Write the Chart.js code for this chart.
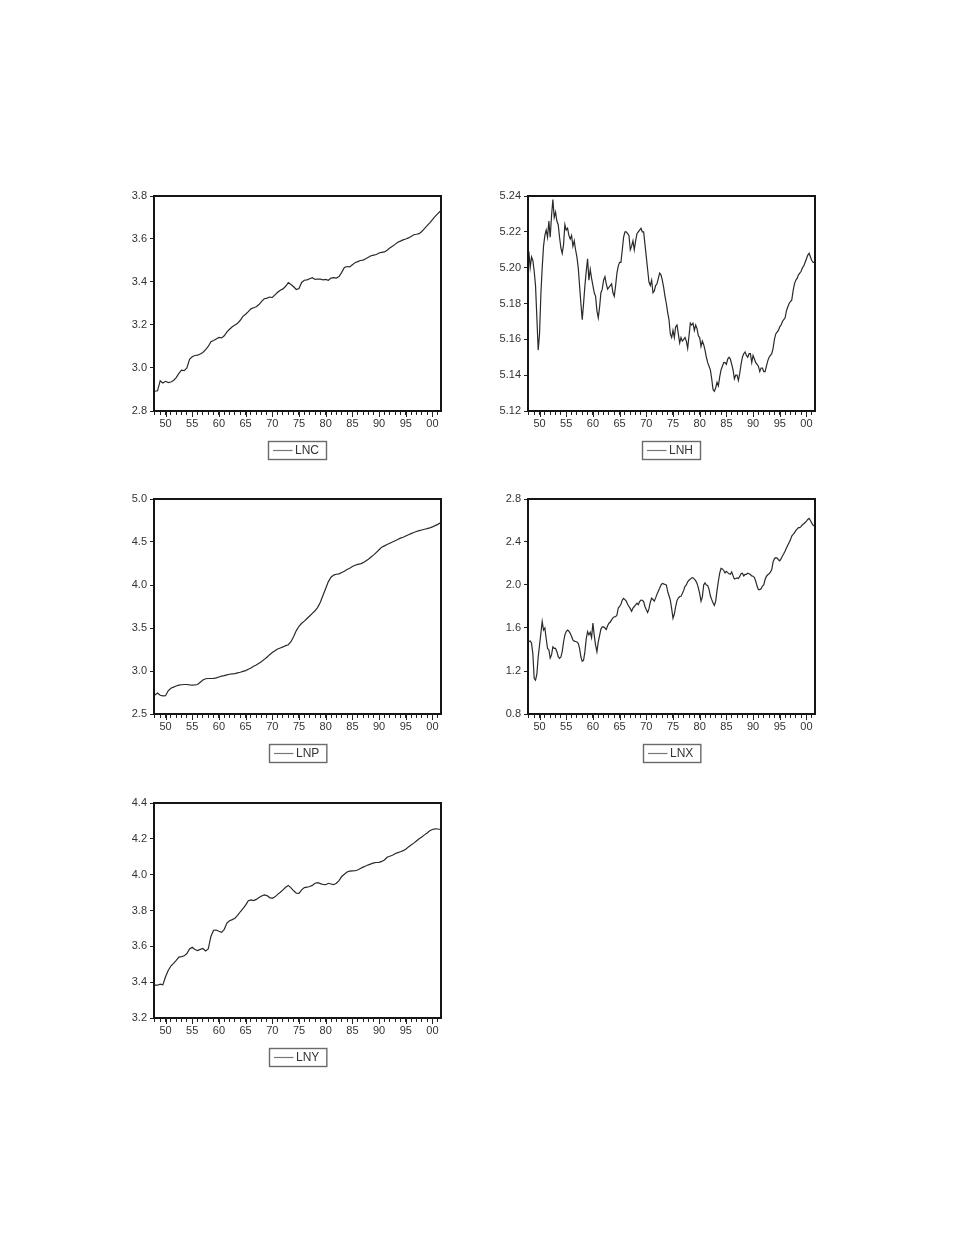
<!DOCTYPE html>
<html>
<head>
<meta charset="utf-8">
<title>LNC, LNH, LNP, LNX, LNY</title>
<script src="https://cdn.jsdelivr.net/npm/chart.js@4.4.1/dist/chart.umd.min.js"></script>
<style>
  html, body { margin: 0; padding: 0; background: #ffffff; }
  body { width: 958px; height: 1247px; position: relative; overflow: hidden; }
  canvas { position: absolute; }
</style>
</head>
<body>
<canvas id="cLNC"></canvas>
<canvas id="cLNH"></canvas>
<canvas id="cLNP"></canvas>
<canvas id="cLNX"></canvas>
<canvas id="cLNY"></canvas>
<script>
// Observation dates (decimal years): half-yearly and quarterly, 1948 to 2001.
const halfYears = Array.from({ length: 108 }, (_, i) => 1948 + i * 0.5);
const quarters = Array.from({ length: 215 }, (_, i) => 1948 + i * 0.25);

// Year axis: a tick every year, labels every five years.
const tickYears = Array.from({ length: 54 }, (_, i) => 1948 + i);
const labelYears = [1950, 1955, 1960, 1965, 1970, 1975, 1980, 1985, 1990, 1995, 2000];
const yearLabels = ['50', '55', '60', '65', '70', '75', '80', '85', '90', '95', '00'];

// Value-axis ticks for each series.
const lncTicks = [2.8, 3.0, 3.2, 3.4, 3.6, 3.8];
const lnhTicks = [5.12, 5.14, 5.16, 5.18, 5.20, 5.22, 5.24];
const lnpTicks = [2.5, 3.0, 3.5, 4.0, 4.5, 5.0];
const lnxTicks = [0.8, 1.2, 1.6, 2.0, 2.4, 2.8];
const lnyTicks = [3.2, 3.4, 3.6, 3.8, 4.0, 4.2, 4.4];

// LNC, half-yearly
const lnc = [
  2.892, 2.894, 2.940, 2.930, 2.938, 2.932, 2.935, 2.942,
  2.955, 2.975, 2.990, 2.988, 3.000, 3.040, 3.052, 3.058,
  3.060, 3.065, 3.072, 3.085, 3.100, 3.122, 3.128, 3.135,
  3.142, 3.140, 3.150, 3.168, 3.180, 3.192, 3.200, 3.208,
  3.222, 3.240, 3.250, 3.262, 3.275, 3.280, 3.285, 3.295,
  3.310, 3.322, 3.325, 3.330, 3.328, 3.340, 3.352, 3.362,
  3.368, 3.380, 3.397, 3.388, 3.378, 3.365, 3.370, 3.398,
  3.408, 3.410, 3.415, 3.420, 3.412, 3.414, 3.413, 3.410,
  3.412, 3.408, 3.418, 3.420, 3.418, 3.425, 3.445, 3.468,
  3.472, 3.470, 3.480, 3.490, 3.495, 3.500, 3.502, 3.508,
  3.515, 3.522, 3.525, 3.528, 3.535, 3.538, 3.540, 3.548,
  3.558, 3.566, 3.575, 3.585, 3.590, 3.596, 3.600, 3.605,
  3.612, 3.620, 3.622, 3.625, 3.635, 3.648, 3.662, 3.675,
  3.690, 3.705, 3.718, 3.730
];

// LNH, quarterly
const lnh = [
  5.209, 5.200, 5.206, 5.204, 5.198, 5.190, 5.172, 5.154,
  5.163, 5.185, 5.200, 5.212, 5.218, 5.221, 5.217, 5.226,
  5.217, 5.229, 5.238, 5.228, 5.231, 5.226, 5.224, 5.217,
  5.211, 5.208, 5.213, 5.224, 5.221, 5.222, 5.218, 5.216,
  5.218, 5.212, 5.215, 5.210, 5.206, 5.200, 5.190, 5.180,
  5.171, 5.180, 5.190, 5.198, 5.205, 5.193, 5.199, 5.194,
  5.190, 5.186, 5.184, 5.176, 5.172, 5.178, 5.186, 5.188,
  5.193, 5.195, 5.191, 5.188, 5.189, 5.190, 5.191, 5.186,
  5.184, 5.190, 5.197, 5.201, 5.203, 5.203, 5.210, 5.217,
  5.220, 5.220, 5.219, 5.218, 5.210, 5.212, 5.215, 5.210,
  5.215, 5.219, 5.220, 5.221, 5.222, 5.220, 5.220, 5.213,
  5.206, 5.199, 5.192, 5.190, 5.193, 5.186, 5.187, 5.190,
  5.191, 5.194, 5.197, 5.196, 5.193, 5.189, 5.184, 5.180,
  5.175, 5.171, 5.163, 5.161, 5.165, 5.161, 5.167, 5.168,
  5.163, 5.158, 5.161, 5.159, 5.160, 5.161, 5.159, 5.155,
  5.162, 5.169, 5.168, 5.169, 5.165, 5.168, 5.166, 5.162,
  5.161, 5.156, 5.159, 5.157, 5.154, 5.150, 5.147, 5.145,
  5.143, 5.138, 5.132, 5.131, 5.133, 5.136, 5.134, 5.139,
  5.143, 5.145, 5.147, 5.147, 5.146, 5.149, 5.150, 5.149,
  5.146, 5.143, 5.138, 5.140, 5.140, 5.137, 5.141, 5.146,
  5.150, 5.152, 5.153, 5.151, 5.150, 5.152, 5.152, 5.147,
  5.151, 5.149, 5.147, 5.146, 5.145, 5.142, 5.144, 5.144,
  5.142, 5.142, 5.145, 5.148, 5.150, 5.151, 5.152, 5.155,
  5.160, 5.163, 5.164, 5.165, 5.167, 5.168, 5.170, 5.171,
  5.172, 5.176, 5.178, 5.180, 5.181, 5.182, 5.187, 5.191,
  5.193, 5.194, 5.196, 5.197, 5.198, 5.200, 5.201, 5.203,
  5.205, 5.207, 5.208, 5.206, 5.204, 5.203, 5.203
];

// LNP, half-yearly
const lnp = [
  2.720, 2.745, 2.718, 2.710, 2.712, 2.770, 2.800, 2.812,
  2.825, 2.835, 2.840, 2.843, 2.843, 2.838, 2.835, 2.838,
  2.843, 2.870, 2.895, 2.910, 2.913, 2.913, 2.915, 2.920,
  2.930, 2.940, 2.947, 2.955, 2.962, 2.966, 2.970, 2.978,
  2.985, 2.995, 3.005, 3.020, 3.035, 3.055, 3.070, 3.090,
  3.110, 3.135, 3.160, 3.190, 3.215, 3.235, 3.255, 3.268,
  3.280, 3.295, 3.305, 3.340, 3.400, 3.470, 3.520, 3.555,
  3.580, 3.610, 3.640, 3.670, 3.700, 3.740, 3.800, 3.880,
  3.960, 4.040, 4.090, 4.115, 4.125, 4.130, 4.145, 4.160,
  4.180, 4.195, 4.215, 4.230, 4.240, 4.245, 4.260, 4.280,
  4.300, 4.325, 4.350, 4.380, 4.410, 4.440, 4.455, 4.470,
  4.485, 4.500, 4.515, 4.530, 4.545, 4.555, 4.570, 4.585,
  4.598, 4.610, 4.622, 4.632, 4.640, 4.648, 4.656, 4.665,
  4.676, 4.690, 4.705, 4.725
];

// LNX, quarterly
const lnx = [
  1.475, 1.480, 1.458, 1.360, 1.130, 1.115, 1.170, 1.330,
  1.440, 1.550, 1.660, 1.580, 1.600, 1.500, 1.410, 1.396,
  1.320, 1.350, 1.425, 1.410, 1.410, 1.380, 1.333, 1.318,
  1.330, 1.380, 1.470, 1.536, 1.567, 1.580, 1.570, 1.550,
  1.520, 1.490, 1.478, 1.474, 1.470, 1.458, 1.410, 1.330,
  1.290, 1.300, 1.380, 1.500, 1.567, 1.536, 1.560, 1.510,
  1.645, 1.530, 1.440, 1.380, 1.470, 1.530, 1.590, 1.610,
  1.610, 1.600, 1.585, 1.620, 1.645, 1.655, 1.676, 1.695,
  1.705, 1.706, 1.720, 1.786, 1.800, 1.820, 1.860, 1.875,
  1.864, 1.850, 1.820, 1.800, 1.780, 1.755, 1.785, 1.800,
  1.815, 1.830, 1.817, 1.845, 1.860, 1.858, 1.845, 1.800,
  1.770, 1.745, 1.780, 1.840, 1.878, 1.865, 1.850, 1.880,
  1.915, 1.942, 1.970, 2.000, 2.015, 2.010, 2.005, 2.000,
  1.940, 1.900, 1.860, 1.780, 1.690, 1.730, 1.800, 1.855,
  1.879, 1.893, 1.895, 1.920, 1.950, 1.988, 2.000, 2.030,
  2.045, 2.055, 2.066, 2.066, 2.055, 2.040, 2.015, 1.973,
  1.920, 1.850, 1.890, 2.000, 2.020, 2.000, 1.995, 1.960,
  1.900, 1.864, 1.835, 1.810, 1.850, 1.950, 2.035, 2.110,
  2.155, 2.150, 2.135, 2.113, 2.127, 2.115, 2.105, 2.100,
  2.122, 2.085, 2.055, 2.060, 2.066, 2.060, 2.080, 2.105,
  2.110, 2.085, 2.098, 2.098, 2.110, 2.105, 2.098, 2.085,
  2.082, 2.070, 2.035, 1.990, 1.957, 1.957, 1.965, 1.990,
  2.000, 2.051, 2.080, 2.095, 2.105, 2.120, 2.144, 2.215,
  2.245, 2.254, 2.250, 2.235, 2.225, 2.245, 2.270, 2.290,
  2.316, 2.345, 2.370, 2.395, 2.420, 2.456, 2.470, 2.485,
  2.505, 2.520, 2.534, 2.534, 2.545, 2.560, 2.570, 2.581,
  2.595, 2.610, 2.620, 2.600, 2.575, 2.555, 2.550
];

// LNY, half-yearly
const lny = [
  3.383, 3.383, 3.389, 3.385, 3.430, 3.465, 3.490, 3.505,
  3.522, 3.540, 3.543, 3.547, 3.560, 3.585, 3.595, 3.582,
  3.576, 3.583, 3.588, 3.574, 3.585, 3.655, 3.690, 3.691,
  3.684, 3.678, 3.695, 3.730, 3.743, 3.749, 3.757, 3.773,
  3.793, 3.810, 3.830, 3.855, 3.859, 3.855, 3.862, 3.872,
  3.881, 3.887, 3.883, 3.872, 3.868, 3.876, 3.890, 3.902,
  3.915, 3.930, 3.940, 3.926, 3.910, 3.897, 3.895, 3.915,
  3.928, 3.930, 3.934, 3.940, 3.952, 3.955, 3.950, 3.945,
  3.944, 3.952, 3.948, 3.944, 3.952, 3.967, 3.990, 4.002,
  4.015, 4.020, 4.021, 4.022, 4.026, 4.034, 4.042, 4.048,
  4.055, 4.060, 4.066, 4.068, 4.069, 4.074, 4.082, 4.097,
  4.103, 4.108, 4.117, 4.123, 4.128, 4.134, 4.142, 4.155,
  4.166, 4.176, 4.188, 4.200, 4.210, 4.222, 4.233, 4.245,
  4.252, 4.256, 4.255, 4.252
];

const FONT = '"Liberation Sans", Arial, Helvetica, sans-serif';
const TEXT = '#333333';
const AXIS_W = 50;     // room left of the plot for value labels
const X_AXIS_H = 60;   // room below the plot for year labels and the legend box
const PAD_TOP = 10;
const PAD_RIGHT = 12;
const PLOT_W = 287;
const PLOT_H = 215;

// Black frame round the plotting area, plus slightly longer ticks at labelled years.
const framePlugin = {
  id: 'frame',
  afterDatasetsDraw(chart) {
    const { ctx, chartArea: a } = chart;
    const xs = chart.scales.x;
    ctx.save();
    ctx.strokeStyle = '#151515';
    ctx.lineWidth = 2;
    ctx.strokeRect(a.left, a.top, a.right - a.left, a.bottom - a.top);
    ctx.lineWidth = 1;
    ctx.strokeStyle = '#222222';
    ctx.beginPath();
    labelYears.forEach(y => {
      const px = Math.round(xs.getPixelForValue(y)) + 0.5;
      ctx.moveTo(px, a.bottom);
      ctx.lineTo(px, a.bottom + 6);
    });
    ctx.stroke();
    ctx.restore();
  }
};

// Boxed legend centred under the plot: a line sample and the series name.
const boxLegendPlugin = {
  id: 'boxLegend',
  afterDraw(chart) {
    const { ctx, chartArea: a } = chart;
    const ds = chart.data.datasets[0];
    ctx.save();
    ctx.font = '12px ' + FONT;
    const tw = ctx.measureText(ds.label).width;
    const padL = 4.5, sample = 19.5, gap = 2.5, padR = 7.5, h = 18;
    const w = padL + sample + gap + tw + padR;
    const cx = (a.left + a.right) / 2;
    const x0 = Math.round(cx - w / 2) + 0.5;
    const y0 = Math.round(a.bottom + 30) + 0.5;
    ctx.strokeStyle = '#6a6a6a';
    ctx.lineWidth = 1.4;
    ctx.strokeRect(x0, y0, w, h);
    ctx.strokeStyle = '#777777';
    ctx.lineWidth = 1.2;
    ctx.beginPath();
    ctx.moveTo(x0 + padL, y0 + h / 2);
    ctx.lineTo(x0 + padL + sample, y0 + h / 2);
    ctx.stroke();
    ctx.fillStyle = TEXT;
    ctx.textBaseline = 'middle';
    ctx.textAlign = 'left';
    ctx.fillText(ds.label, x0 + padL + sample + gap, y0 + h / 2 + 0.5);
    ctx.restore();
  }
};

const panels = [
  { id: 'cLNC', label: 'LNC', t: halfYears, v: lnc, ticks: lncTicks, dec: 1, left: 154, top: 196 },
  { id: 'cLNH', label: 'LNH', t: quarters,  v: lnh, ticks: lnhTicks, dec: 2, left: 528, top: 196 },
  { id: 'cLNP', label: 'LNP', t: halfYears, v: lnp, ticks: lnpTicks, dec: 1, left: 154, top: 499 },
  { id: 'cLNX', label: 'LNX', t: quarters,  v: lnx, ticks: lnxTicks, dec: 1, left: 528, top: 499 },
  { id: 'cLNY', label: 'LNY', t: halfYears, v: lny, ticks: lnyTicks, dec: 1, left: 154, top: 803 }
];

panels.forEach(p => {
  const canvas = document.getElementById(p.id);
  const cw = AXIS_W + PLOT_W + PAD_RIGHT;
  const ch = PAD_TOP + PLOT_H + X_AXIS_H;
  canvas.width = cw;
  canvas.height = ch;
  canvas.style.width = cw + 'px';
  canvas.style.height = ch + 'px';
  canvas.style.left = (p.left - AXIS_W) + 'px';
  canvas.style.top = (p.top - PAD_TOP) + 'px';

  const n = Math.min(p.t.length, p.v.length);
  const points = [];
  for (let i = 0; i < n; i++) points.push({ x: p.t[i], y: p.v[i] });

  new Chart(canvas, {
    type: 'line',
    data: {
      datasets: [{
        label: p.label,
        data: points,
        borderColor: '#2a2a2a',
        borderWidth: 1.2,
        pointRadius: 0,
        tension: 0,
        fill: false
      }]
    },
    options: {
      responsive: false,
      animation: false,
      devicePixelRatio: 1,
      layout: { padding: { top: PAD_TOP, right: PAD_RIGHT, left: 0, bottom: 0 } },
      plugins: {
        legend: { display: false },
        tooltip: { enabled: false }
      },
      scales: {
        x: {
          type: 'linear',
          min: 1947.84,
          max: 2001.6,
          afterBuildTicks: s => { s.ticks = tickYears.map(y => ({ value: y })); },
          afterFit: s => { s.height = X_AXIS_H; },
          ticks: {
            autoSkip: false,
            maxRotation: 0,
            minRotation: 0,
            padding: 2,
            color: TEXT,
            font: { family: FONT, size: 11 },
            callback: v => {
              const k = labelYears.indexOf(Math.round(v));
              return k >= 0 ? yearLabels[k] : '';
            }
          },
          grid: {
            drawOnChartArea: false,
            drawTicks: true,
            tickLength: 4,
            tickColor: '#222222',
            tickWidth: 1
          },
          border: { display: false }
        },
        y: {
          type: 'linear',
          min: p.ticks[0],
          max: p.ticks[p.ticks.length - 1],
          afterBuildTicks: s => { s.ticks = p.ticks.map(v => ({ value: v })); },
          afterFit: s => { s.width = AXIS_W; },
          ticks: {
            autoSkip: false,
            padding: 3,
            color: TEXT,
            font: { family: FONT, size: 11 },
            callback: v => Number(v).toFixed(p.dec)
          },
          grid: {
            drawOnChartArea: false,
            drawTicks: true,
            tickLength: 4,
            tickColor: '#222222',
            tickWidth: 1
          },
          border: { display: false }
        }
      }
    },
    plugins: [framePlugin, boxLegendPlugin]
  });
});
</script>
</body>
</html>
